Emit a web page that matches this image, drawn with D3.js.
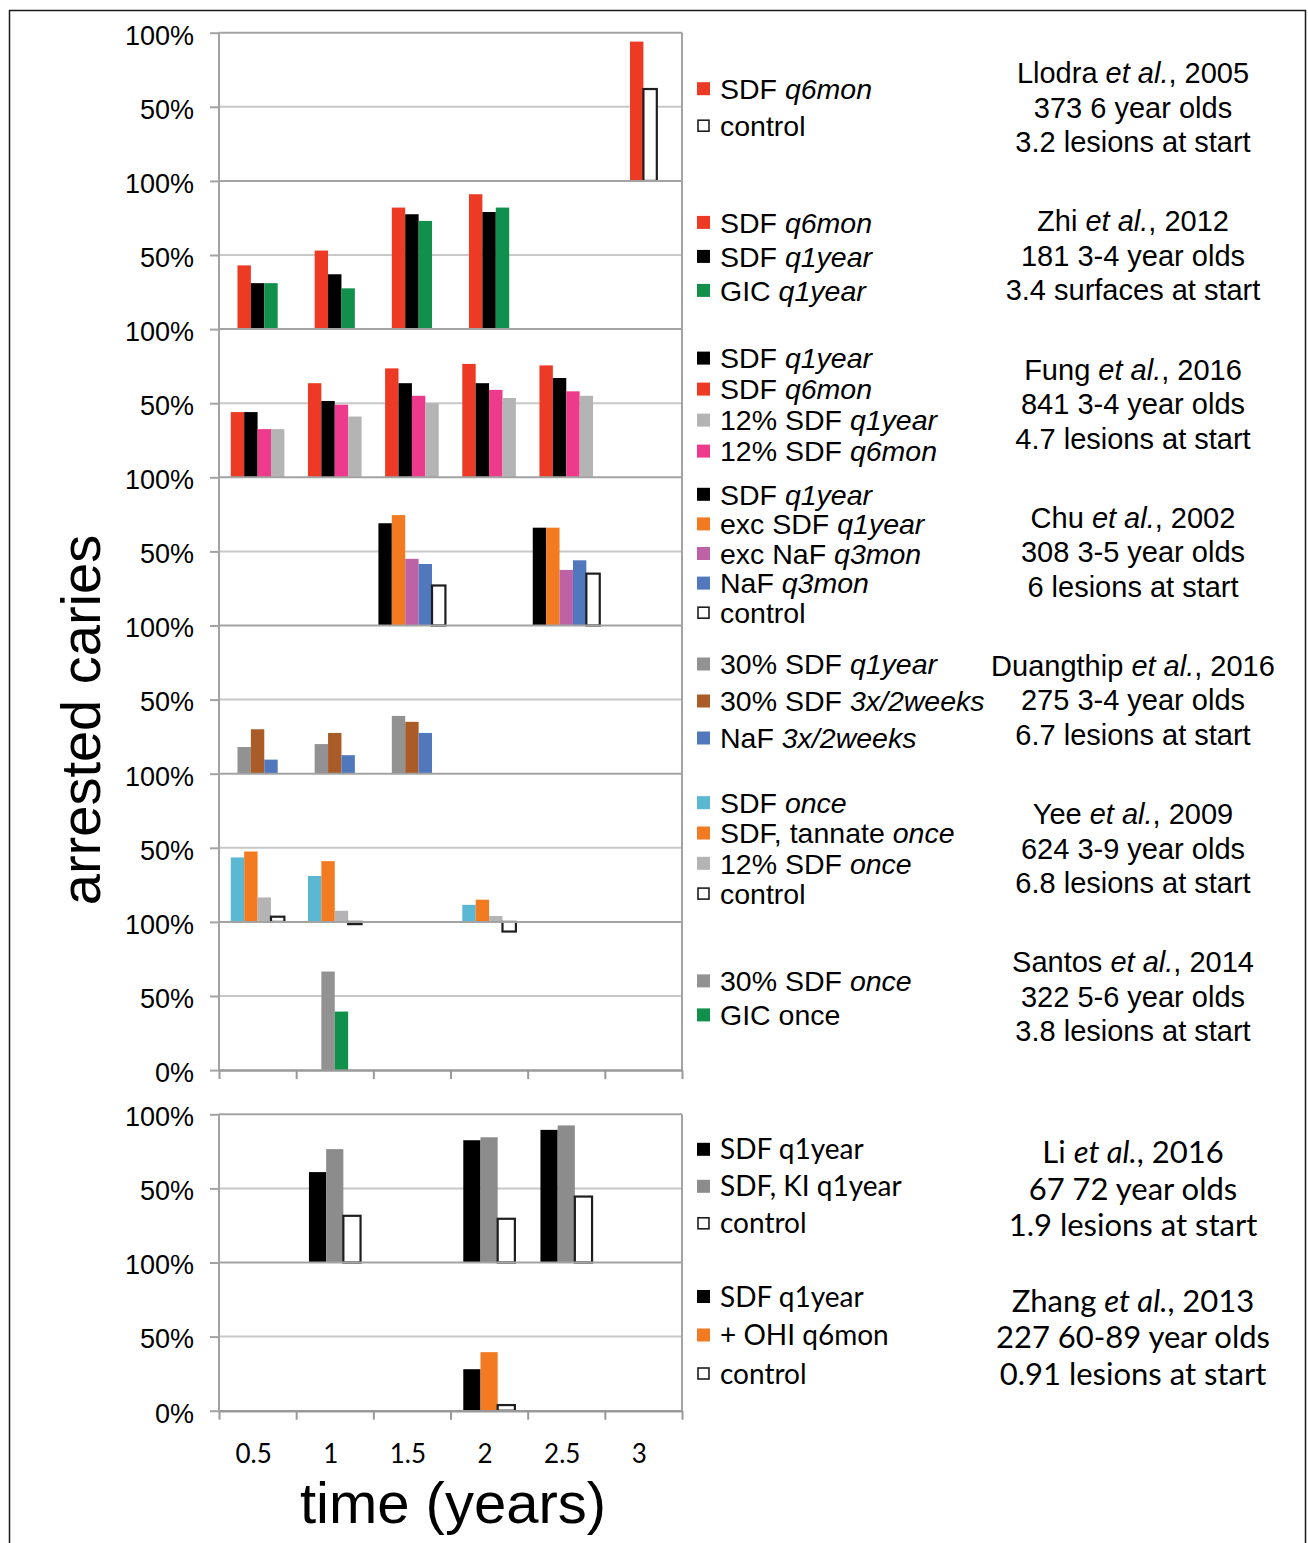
<!DOCTYPE html>
<html>
<head>
<meta charset="utf-8">
<script src="https://cdn.jsdelivr.net/npm/d3@7"></script>
<style>
  body { margin: 0; background: #fff; }
  svg { display: block; }
</style>
</head>
<body>
<svg id="chart" width="1308" height="1543"></svg>
<script>
var svg = d3.select("#chart"),
  width = +svg.attr("width"),
  height = +svg.attr("height");

// categories (time in years)
const years = ["0.5", "1", "1.5", "2", "2.5", "3"];

// label parts: even index = plain text, odd index = italic
// Llodra et al., 2005
const llodraNames = [["SDF ", "q6mon"], ["control"]];
const llodraColors = ["#ec3a25", null];
const llodraValues = [
  [null, null, null, null, null, 94],
  [null, null, null, null, null, 62]
];
const llodraNote = [["Llodra ", "et al.", ", 2005"], ["373 6 year olds"], ["3.2 lesions at start"]];

// Zhi et al., 2012
const zhiNames = [["SDF ", "q6mon"], ["SDF ", "q1year"], ["GIC ", "q1year"]];
const zhiColors = ["#ec3a25", "#000000", "#10904a"];
const zhiValues = [
  [43, 53, 82, 91, null, null],
  [31, 37, 77.5, 79, null, null],
  [31, 27.5, 73, 82, null, null]
];
const zhiNote = [["Zhi ", "et al.", ", 2012"], ["181 3-4 year olds"], ["3.4 surfaces at start"]];

// Fung et al., 2016 (bar order differs from legend order)
const fungNames = [["SDF ", "q6mon"], ["SDF ", "q1year"], ["12% SDF ", "q6mon"], ["12% SDF ", "q1year"]];
const fungColors = ["#ec3a25", "#000000", "#ee3a8c", "#b4b4b5"];
const fungValues = [
  [44, 63.5, 73.5, 76.5, 75.5, null],
  [44, 51.5, 63.5, 63.5, 67, null],
  [32.5, 49, 55, 59, 58, null],
  [32.5, 41, 50, 53.5, 55, null]
];
const fungLegend = [1, 0, 3, 2];
const fungNote = [["Fung ", "et al.", ", 2016"], ["841 3-4 year olds"], ["4.7 lesions at start"]];

// Chu et al., 2002
const chuNames = [["SDF ", "q1year"], ["exc SDF ", "q1year"], ["exc NaF ", "q3mon"], ["NaF ", "q3mon"], ["control"]];
const chuColors = ["#000000", "#f27b21", "#bd62a5", "#5177bd", null];
const chuValues = [
  [null, null, 69, null, 66, null],
  [null, null, 74.5, null, 66, null],
  [null, null, 45, null, 37.5, null],
  [null, null, 41.5, null, 44, null],
  [null, null, 27, null, 35, null]
];
const chuNote = [["Chu ", "et al.", ", 2002"], ["308 3-5 year olds"], ["6 lesions at start"]];

// Duangthip et al., 2016
const duangNames = [["30% SDF ", "q1year"], ["30% SDF ", "3x/2weeks"], ["NaF ", "3x/2weeks"]];
const duangColors = ["#939292", "#a95c27", "#5177bd"];
const duangValues = [
  [18, 20, 39, null, null, null],
  [30, 27.5, 35, null, null, null],
  [9.5, 12.5, 27.5, null, null, null]
];
const duangNote = [["Duangthip ", "et al.", ", 2016"], ["275 3-4 year olds"], ["6.7 lesions at start"]];

// Yee et al., 2009
const yeeNames = [["SDF ", "once"], ["SDF, tannate ", "once"], ["12% SDF ", "once"], ["control"]];
const yeeColors = ["#5bb8d3", "#f27b21", "#b4b4b5", null];
const yeeValues = [
  [43.5, 31, null, 11.5, null, null],
  [47.5, 41, null, 15, null, null],
  [16.5, 7.5, null, 4, null, null],
  [3.5, -1.5, null, -6.5, null, null]
];
const yeeNote = [["Yee ", "et al.", ", 2009"], ["624 3-9 year olds"], ["6.8 lesions at start"]];

// Santos et al., 2014
const santosNames = [["30% SDF ", "once"], ["GIC once"]];
const santosColors = ["#939292", "#10904a"];
const santosValues = [
  [null, 66.5, null, null, null, null],
  [null, 39.5, null, null, null, null]
];
const santosNote = [["Santos ", "et al.", ", 2014"], ["322 5-6 year olds"], ["3.8 lesions at start"]];

// Li et al., 2016
const liNames = [["SDF q1year"], ["SDF, KI q1year"], ["control"]];
const liColors = ["#000000", "#8c8c8c", null];
const liValues = [
  [null, 61, null, 82.5, 89.5, null],
  [null, 76.5, null, 84.5, 92.5, null],
  [null, 31.5, null, 29.5, 44.5, null]
];
const liNote = [["Li ", "et al.", ", 2016"], ["67 72 year olds"], ["1.9 lesions at start"]];

// Zhang et al., 2013
const zhangNames = [["SDF q1year"], ["+ OHI q6mon"], ["control"]];
const zhangColors = ["#000000", "#f27b21", null];
const zhangValues = [
  [null, null, null, 28, null, null],
  [null, null, null, 39.5, null, null],
  [null, null, null, 3.8, null, null]
];
const zhangNote = [["Zhang ", "et al.", ", 2013"], ["227 60-89 year olds"], ["0.91 lesions at start"]];

// table of panels
const studies = [
  {names: llodraNames, colors: llodraColors, values: llodraValues, note: llodraNote},
  {names: zhiNames, colors: zhiColors, values: zhiValues, note: zhiNote},
  {names: fungNames, colors: fungColors, values: fungValues, note: fungNote, order: fungLegend},
  {names: chuNames, colors: chuColors, values: chuValues, note: chuNote},
  {names: duangNames, colors: duangColors, values: duangValues, note: duangNote},
  {names: yeeNames, colors: yeeColors, values: yeeValues, note: yeeNote},
  {names: santosNames, colors: santosColors, values: santosValues, note: santosNote},
  {names: liNames, colors: liColors, values: liValues, note: liNote},
  {names: zhangNames, colors: zhangColors, values: zhangValues, note: zhangNote}
];

// layout
const left = 219, right = 682;
const panelH = 148.2;
const groups = [
  {top: 32.7, first: 0, count: 7, barW: 13.4, font: "'Liberation Sans', Arial, sans-serif"},
  {top: 1114.3, first: 7, count: 2, barW: 17.2, font: "Lato, sans-serif"}
];
// legend first row offset / row spacing, per panel
const legendPos = [[56, 37], [41.5, 34], [29, 31], [17, 29.6], [38.5, 37], [29, 30.3], [59, 34], [35, 37], [34, 38.5]];
const legendSize = [28.5, 28.5, 28.5, 28.5, 28.5, 28.5, 28.5, 28, 28];
const axisGray = "#a3a3a3", gridGray = "#c8c8c8";

var x = d3.scaleBand().domain(years).range([left, right]);
var xEdge = d3.scaleLinear().domain([0, years.length]).range([left, right]);

// outer frame
svg.append("rect")
  .attr("x", 9.5).attr("y", 10.5)
  .attr("width", 1296).attr("height", 1545)
  .attr("fill", "none")
  .attr("stroke", "#1a1a1a")
  .attr("stroke-width", 1.5);

function addParts(sel, parts) {
  parts.forEach(function(p, k) {
    if (!p) return;
    sel.append("tspan")
      .attr("font-style", k % 2 ? "italic" : "normal")
      .text(p);
  });
}

groups.forEach(function(grp, gi) {
  var bottom = grp.top + grp.count * panelH;
  var g = svg.append("g");

  for (var p = 0; p < grp.count; p++) {
    var s = studies[grp.first + p];
    var si = grp.first + p;
    var top = grp.top + p * panelH;
    var last = p === grp.count - 1;
    var y = d3.scaleLinear().domain([0, 100]).range([top + panelH, top]);

    // gridlines
    g.append("line")
      .attr("x1", left).attr("x2", right)
      .attr("y1", y(50)).attr("y2", y(50))
      .attr("stroke", gridGray).attr("stroke-width", 2);
    g.append("line")
      .attr("x1", left).attr("x2", right)
      .attr("y1", y(100)).attr("y2", y(100))
      .attr("stroke", axisGray).attr("stroke-width", 2);

    // y axis
    var yAxis = g.append("g")
      .attr("transform", "translate(" + left + ",0)")
      .call(d3.axisLeft(y)
        .tickValues(last ? [0, 50, 100] : [50, 100])
        .tickFormat(function(d) { return d + "%"; })
        .tickSize(9)
        .tickPadding(16));
    yAxis.select(".domain").remove();
    yAxis.selectAll(".tick line").attr("stroke", axisGray).attr("stroke-width", 2);
    yAxis.selectAll(".tick text")
      .attr("dy", "0.42em")
      .attr("fill", "#000")
      .style("font-family", "'Liberation Sans', Arial, sans-serif")
      .style("font-size", "27px");

    // bars
    var n = s.values.length;
    var inner = d3.scaleBand().domain(d3.range(n)).range([0, n * grp.barW]);
    s.values.forEach(function(vals, k) {
      var col = s.colors[k];
      g.append("g").selectAll("rect")
        .data(vals.map(function(v, j) { return {v: v, year: years[j]}; })
          .filter(function(d) { return d.v !== null; }))
        .enter().append("rect")
        .attr("x", function(d) { return x(d.year) + x.bandwidth() / 2 - n * grp.barW / 2 + inner(k); })
        .attr("y", function(d) { return y(Math.max(d.v, 0)); })
        .attr("width", inner.bandwidth())
        .attr("height", function(d) { return Math.abs(y(d.v) - y(0)); })
        .attr("fill", col || "#fff")
        .attr("stroke", col ? "none" : "#1e1e1e")
        .attr("stroke-width", col ? 0 : 2.2);
    });

    // legend
    var order = s.order || d3.range(n);
    var lp = legendPos[si];
    var fs = legendSize[si];
    order.forEach(function(k, r) {
      var cy = top + lp[0] + r * lp[1];
      var col = s.colors[k];
      g.append("rect")
        .attr("x", col ? 697 : 698)
        .attr("y", cy - (col ? 6.5 : 5.5))
        .attr("width", col ? 13 : 11)
        .attr("height", col ? 13 : 11)
        .attr("fill", col || "#fff")
        .attr("stroke", col ? "none" : "#1e1e1e")
        .attr("stroke-width", 1.6);
      var t = g.append("text")
        .attr("x", 720)
        .attr("y", cy + fs * 0.36)
        .style("font-family", grp.font)
        .style("font-size", fs + "px");
      addParts(t, s.names[k]);
    });

    // study note
    s.note.forEach(function(line, r) {
      var nfs = gi === 0 ? 29 : 31;
      var cy = top + (gi === 0 ? 40 : 38) + r * (gi === 0 ? 34.5 : 36.5);
      var t = g.append("text")
        .attr("x", 1133)
        .attr("y", cy + nfs * 0.36)
        .attr("text-anchor", "middle")
        .style("font-family", grp.font)
        .style("font-size", nfs + "px");
      addParts(t, line);
    });
  }

  // left axis and right border
  g.append("line")
    .attr("x1", left).attr("x2", left)
    .attr("y1", grp.top).attr("y2", bottom)
    .attr("stroke", axisGray).attr("stroke-width", 2);
  g.append("line")
    .attr("x1", right).attr("x2", right)
    .attr("y1", grp.top).attr("y2", bottom)
    .attr("stroke", axisGray).attr("stroke-width", 2);

  // bottom axis with ticks at category edges
  var xAxis = g.append("g")
    .attr("transform", "translate(0," + bottom + ")")
    .call(d3.axisBottom(xEdge)
      .tickValues(d3.range(years.length + 1))
      .tickFormat("")
      .tickSize(9)
      .tickSizeOuter(0));
  xAxis.select(".domain").attr("stroke", "#999").attr("stroke-width", 2.5);
  xAxis.selectAll(".tick line").attr("stroke", "#999").attr("stroke-width", 2);

  if (gi === 1) {
    var lab = g.append("g")
      .attr("transform", "translate(-4," + bottom + ")")
      .call(d3.axisBottom(x).tickSize(0).tickPadding(34));
    lab.select(".domain").remove();
    lab.selectAll(".tick text")
      .attr("fill", "#000")
      .style("font-family", "Lato, sans-serif")
      .style("font-size", "26px");
  }
});

// axis titles
svg.append("text")
  .attr("transform", "translate(100,720) rotate(-90)")
  .attr("text-anchor", "middle")
  .style("font-family", "'Liberation Sans', Arial, sans-serif")
  .style("font-size", "56px")
  .text("arrested caries");

svg.append("text")
  .attr("x", 453)
  .attr("y", 1523)
  .attr("text-anchor", "middle")
  .style("font-family", "'Liberation Sans', Arial, sans-serif")
  .style("font-size", "58px")
  .text("time (years)");
</script>
</body>
</html>
